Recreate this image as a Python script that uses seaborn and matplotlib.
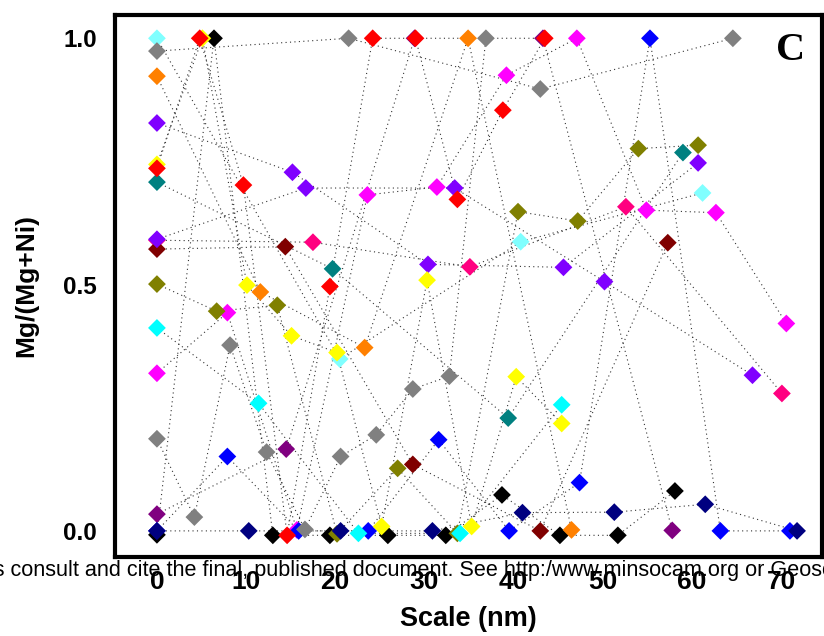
import pandas as pd
import numpy as np
import matplotlib
matplotlib.use("Agg")
import matplotlib.pyplot as plt
import seaborn as sns

# 每条轨迹的数据 (Scale, Mg/(Mg+Ni))
magenta_x = [0, 7.9, 15.7, 23.6, 31.4, 39.2, 47.1, 54.9, 62.7, 70.6]
magenta_y = [0.320, 0.443, 0.002, 0.682, 0.698, 0.925, 1.000, 0.651, 0.646, 0.421]

pink_x = [0, 17.5, 35.1, 52.6, 70.1]
pink_y = [0.590, 0.586, 0.536, 0.658, 0.279]

purple_x = [0, 14.5, 28.9, 43.3, 57.8]
purple_y = [0.034, 0.166, 1.000, 1.000, 0.001]

black_x = [0, 6.4, 13.0, 19.4, 25.9, 32.4, 38.7, 45.2, 51.7, 58.1]
black_y = [-0.008, 1.000, -0.009, -0.009, -0.009, -0.009, 0.073, -0.009, -0.009, 0.081]

blue_x = [0, 7.9, 15.9, 23.7, 31.6, 39.5, 47.4, 55.3, 63.2, 71.0]
blue_y = [0.000, 0.151, 0.000, 0.000, 0.185, 0.000, 0.098, 1.000, 0.000, 0.000]

olive_x = [0, 6.7, 13.5, 20.2, 27.0, 33.7, 40.5, 47.2, 54.0, 60.7]
olive_y = [0.501, 0.446, 0.458, -0.006, 0.127, -0.005, 0.648, 0.629, 0.776, 0.783]

ltcyan_x = [0, 20.5, 40.8, 61.2]
ltcyan_y = [1.000, 0.349, 0.587, 0.686]

cyan_x = [0, 11.4, 22.6, 34.0, 45.4]
cyan_y = [0.412, 0.259, -0.005, -0.005, 0.256]

gray1_x = [0, 4.2, 8.2, 12.3, 16.6, 20.6, 24.6, 28.7, 32.8, 36.9]
gray1_y = [0.187, 0.028, 0.377, 0.160, 0.003, 0.151, 0.195, 0.288, 0.314, 1.000]

gray2_x = [0, 21.5, 43.0, 64.6]
gray2_y = [0.974, 1.000, 0.897, 1.000]

teal_x = [0, 19.7, 39.4, 59.0]
teal_y = [0.708, 0.532, 0.229, 0.768]

wine_x = [0, 14.4, 28.7, 43.0, 57.3]
wine_y = [0.572, 0.577, 0.135, 0.000, 0.585]

violet1_x = [0, 15.2, 30.4, 45.6, 60.7]
violet1_y = [0.828, 0.728, 0.541, 0.535, 0.747]

violet2_x = [0, 16.7, 33.4, 50.2, 66.8]
violet2_y = [0.592, 0.696, 0.696, 0.506, 0.316]

yellow_x = [0, 5.1, 10.1, 15.1, 20.2, 25.2, 30.3, 35.3, 40.3, 45.4]
yellow_y = [0.744, 1.000, 0.499, 0.396, 0.362, 0.009, 0.509, 0.009, 0.313, 0.218]

red_x = [0, 4.8, 9.7, 14.6, 19.4, 24.2, 29.0, 33.7, 38.8, 43.5]
red_y = [0.736, 1.000, 0.702, -0.009, 0.496, 1.000, 1.000, 0.673, 0.854, 1.000]

navy_x = [0, 10.3, 20.6, 30.9, 41.0, 51.3, 61.5, 71.8]
navy_y = [0.000, 0.000, 0.000, 0.000, 0.037, 0.038, 0.054, 0.000]

orange_x = [0, 11.6, 23.3, 34.9, 46.5]
orange_y = [0.923, 0.485, 0.372, 1.000, 0.002]

# 绘制顺序（后面的在上层）和颜色
series = [
    ("magenta", magenta_x, magenta_y, "#FF00FF"),
    ("pink", pink_x, pink_y, "#FF0080"),
    ("purple", purple_x, purple_y, "#800080"),
    ("black", black_x, black_y, "#000000"),
    ("blue", blue_x, blue_y, "#0000FF"),
    ("olive", olive_x, olive_y, "#808000"),
    ("ltcyan", ltcyan_x, ltcyan_y, "#80FFFF"),
    ("cyan", cyan_x, cyan_y, "#00FFFF"),
    ("gray1", gray1_x, gray1_y, "#808080"),
    ("gray2", gray2_x, gray2_y, "#808080"),
    ("teal", teal_x, teal_y, "#008080"),
    ("wine", wine_x, wine_y, "#800000"),
    ("violet1", violet1_x, violet1_y, "#8000FF"),
    ("violet2", violet2_x, violet2_y, "#8000FF"),
    ("yellow", yellow_x, yellow_y, "#FFFF00"),
    ("red", red_x, red_y, "#FF0000"),
    ("navy", navy_x, navy_y, "#000080"),
    ("orange", orange_x, orange_y, "#FF8000"),
]

df = pd.concat(
    [pd.DataFrame({"x": xs, "y": ys, "series": name}) for name, xs, ys, _ in series],
    ignore_index=True,
)
palette = {name: c for name, _, _, c in series}

sns.set_style("white")
plt.rcParams["font.family"] = ["Liberation Sans", "DejaVu Sans"]
plt.rcParams["text.color"] = "black"
plt.rcParams["axes.labelcolor"] = "black"

fig = plt.figure(figsize=(8.24, 6.36), dpi=100)
ax = fig.add_axes([0.1396, 0.125, 0.858, 0.852])

# 点线连接
sns.lineplot(
    data=df, x="x", y="y", units="series", estimator=None,
    color="#333333", linewidth=0.8, linestyle=(0, (1, 3)), ax=ax, legend=False,
)
# 菱形点
sns.scatterplot(
    data=df, x="x", y="y", hue="series", palette=palette,
    marker="D", s=82, linewidth=0, ax=ax, legend=False, zorder=3,
)

ax.set_xlim(-4.7, 74.6)
ax.set_ylim(-0.052, 1.048)
ax.set_xticks([0, 10, 20, 30, 40, 50, 60, 70])
ax.set_yticks([0.0, 0.5, 1.0])
ax.set_yticklabels(["0.0", "0.5", "1.0"])
ax.tick_params(axis="both", direction="out", length=6, width=2.5, colors="black")
ax.tick_params(axis="x", labelsize=19, pad=4)
ax.tick_params(axis="y", labelsize=17.5, pad=7)
for lab in ax.get_xticklabels() + ax.get_yticklabels():
    lab.set_fontweight("bold")
for sp in ax.spines.values():
    sp.set_visible(True)
    sp.set_linewidth(3)
    sp.set_color("black")

ax.set_xlabel("Scale (nm)", fontsize=19.5, fontweight="bold", labelpad=8)
ax.set_ylabel("Mg/(Mg+Ni)", fontsize=19, fontweight="bold", labelpad=18)

ax.text(0.956, 0.933, "C", transform=ax.transAxes, ha="center", va="center",
        fontsize=29, fontweight="bold", family=["Liberation Serif", "DejaVu Serif"])

# 页脚水印
fig.text(-0.078, 0.094,
         "Always consult and cite the final, published document. See http:/www.minsocam.org or GeoscienceWorld",
         fontsize=15.6, va="baseline", ha="left", color="black")

fig.savefig("out.png", dpi=100)
